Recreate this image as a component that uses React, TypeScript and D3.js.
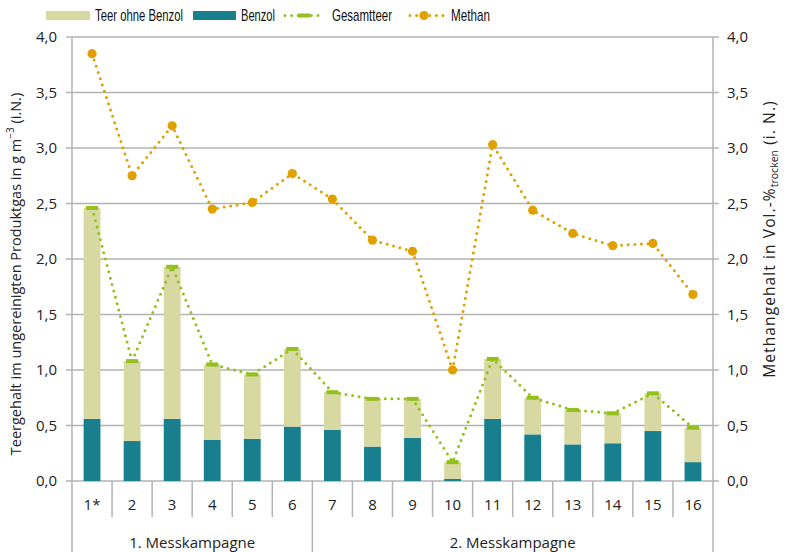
import React, { useEffect } from "react";
import * as d3 from "d3";

const categories = ["1*", "2", "3", "4", "5", "6", "7", "8", "9", "10", "11", "12", "13", "14", "15", "16"];
const benzol = [0.56, 0.36, 0.56, 0.37, 0.38, 0.49, 0.46, 0.31, 0.39, 0.02, 0.56, 0.42, 0.33, 0.34, 0.45, 0.17];
const teerOhneBenzol = [1.9, 0.72, 1.37, 0.68, 0.58, 0.7, 0.34, 0.43, 0.35, 0.15, 0.54, 0.33, 0.31, 0.27, 0.34, 0.31];
const gesamtteer = [2.46, 1.08, 1.93, 1.05, 0.96, 1.19, 0.8, 0.74, 0.74, 0.17, 1.1, 0.75, 0.64, 0.61, 0.79, 0.48];
const methan = [3.85, 2.75, 3.2, 2.45, 2.51, 2.77, 2.54, 2.17, 2.07, 1.0, 3.03, 2.44, 2.23, 2.12, 2.14, 1.68];
const yTicks = [0, 0.5, 1, 1.5, 2, 2.5, 3, 3.5, 4];
const groups = [
  { label: "1. Messkampagne", from: 0, to: 5 },
  { label: "2. Messkampagne", from: 6, to: 15 },
];

const W = 786, H = 552;
const left = 72, right = 713, top = 37, bottom = 481;
const C_TEER = "#d8d8a2", C_BENZ = "#187f8f", C_GES = "#93c11c", C_MET = "#e0a000", C_GRID = "#b3b3b3";
const FONT = "'Open Sans', 'Noto Sans', sans-serif";

export default function App() {
  useEffect(() => { document.body.style.margin = "0"; }, []);
  const x = d3.scaleBand<string>().domain(categories).range([left, right]).paddingInner(0).paddingOuter(0);
  const y = d3.scaleLinear().domain([0, 4]).range([bottom, top]);
  const bw = x.bandwidth() * 0.42;
  const cx = (i: number) => (x(categories[i]) as number) + x.bandwidth() / 2;
  const line = d3.line<number>().x((_, i) => cx(i)).y((d) => y(d));
  const fmt = (v: number) => v.toFixed(1).replace(".", ",");
  const dots = { strokeDasharray: "0 6.6", strokeLinecap: "round" as const, strokeWidth: 3, fill: "none" };

  return (
    <svg width={W} height={H} style={{ display: "block", fontFamily: FONT }}>
      <rect width={W} height={H} fill="#fff" />
      {/* grid */}
      {yTicks.map((t) => (
        <g key={t}>
          <line x1={left - 6} x2={right + 6} y1={y(t)} y2={y(t)} stroke={C_GRID} strokeWidth={1.5} />
          <text x={57} y={y(t)} dy="0.35em" textAnchor="end" fontSize={15} fill="#222">{fmt(t)}</text>
          <text x={727} y={y(t)} dy="0.35em" textAnchor="start" fontSize={15} fill="#222">{fmt(t)}</text>
        </g>
      ))}
      {/* axes */}
      <line x1={left} x2={left} y1={top} y2={H} stroke={C_GRID} strokeWidth={1.5} />
      <line x1={right} x2={right} y1={top} y2={H} stroke={C_GRID} strokeWidth={1.5} />
      {categories.map((c, i) => i > 0 && (
        <line key={c} x1={x(c)} x2={x(c)} y1={bottom} y2={groups.some((g) => g.from === i) ? H : 517} stroke={C_GRID} strokeWidth={1.5} />
      ))}
      {/* bars */}
      {categories.map((c, i) => (
        <g key={c}>
          <rect x={cx(i) - bw / 2} width={bw} y={y(benzol[i])} height={bottom - y(benzol[i])} fill={C_BENZ} />
          <rect x={cx(i) - bw / 2} width={bw} y={y(benzol[i] + teerOhneBenzol[i])} height={y(benzol[i]) - y(benzol[i] + teerOhneBenzol[i])} fill={C_TEER} />
        </g>
      ))}
      {/* lines */}
      <path d={line(gesamtteer) || ""} stroke={C_GES} {...dots} />
      {gesamtteer.map((v, i) => (
        <rect key={i} x={cx(i) - 6} y={y(v) - 2} width={12} height={4} fill={C_GES} />
      ))}
      <path d={line(methan) || ""} stroke={C_MET} {...dots} />
      {methan.map((v, i) => (
        <circle key={i} cx={cx(i)} cy={y(v)} r={4.6} fill={C_MET} />
      ))}
      {/* category labels */}
      {categories.map((c, i) => (
        <text key={c} x={cx(i)} y={505} dy="0.35em" textAnchor="middle" fontSize={15} fill="#222">{c}</text>
      ))}
      {groups.map((g) => (
        <text key={g.label} x={(cx(g.from) + cx(g.to)) / 2} y={543} dy="0.35em" textAnchor="middle" fontSize={15} fill="#222">{g.label}</text>
      ))}
      {/* axis titles */}
      <text transform={`translate(21,${(top + bottom) / 2 + 15}) rotate(-90)`} textAnchor="middle" fontSize={14.5} fill="#222">
        Teergehalt im ungereinigten Produktgas in g m<tspan baselineShift="super" fontSize={10}>−3</tspan> (i.N.)
      </text>
      <text transform={`translate(775,239) rotate(-90)`} textAnchor="middle" fontSize={15.5} letterSpacing={1.1} fill="#222">
        Methangehalt in Vol.-%<tspan dy={3} fontSize={10.5} letterSpacing={0}>trocken</tspan><tspan dy={-3}> (i. N.)</tspan>
      </text>
      {/* legend */}
      <g fontFamily="'Liberation Sans Narrow', 'Liberation Sans', Arial, sans-serif" fontSize={17} fill="#111">
        <rect x={46} y={11} width={44} height={9} fill={C_TEER} />
        <text x={95} y={15.5} dy="0.35em" textLength={88} lengthAdjust="spacingAndGlyphs">Teer ohne Benzol</text>
        <rect x={193} y={11} width={43} height={9} fill={C_BENZ} />
        <text x={241} y={15.5} dy="0.35em" textLength={34} lengthAdjust="spacingAndGlyphs">Benzol</text>
        <line x1={285} x2={322} y1={15.5} y2={15.5} stroke={C_GES} {...dots} />
        <rect x={298} y={13.5} width={12} height={4} fill={C_GES} />
        <text x={332} y={15.5} dy="0.35em" textLength={60} lengthAdjust="spacingAndGlyphs">Gesamtteer</text>
        <line x1={410} x2={446} y1={15.5} y2={15.5} stroke={C_MET} {...dots} />
        <circle cx={424} cy={15.5} r={4.6} fill={C_MET} />
        <text x={451} y={15.5} dy="0.35em" textLength={39} lengthAdjust="spacingAndGlyphs">Methan</text>
      </g>
    </svg>
  );
}
